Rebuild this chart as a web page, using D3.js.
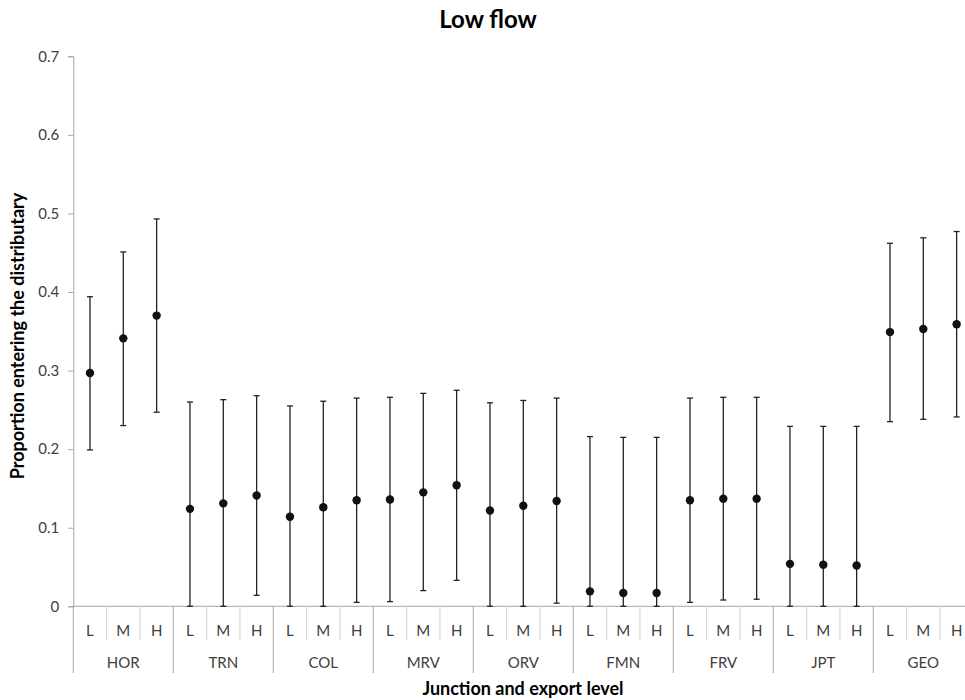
<!DOCTYPE html>
<html>
<head>
<meta charset="utf-8">
<script src="https://cdn.jsdelivr.net/npm/d3@7"></script>
<style>
  body { margin: 0; background: #fff; }
  text { font-family: Lato, "Open Sans", sans-serif; }
</style>
</head>
<body>
<svg width="965" height="700"></svg>
<script>
// Data
const junctions = ["HOR", "TRN", "COL", "MRV", "ORV", "FMN", "FRV", "JPT", "GEO"];
const levels = ["L", "M", "H"];
const estimates = [
    0.297, 0.341, 0.370,
    0.124, 0.131, 0.141,
    0.114, 0.126, 0.135,
    0.136, 0.145, 0.154,
    0.122, 0.128, 0.134,
    0.019, 0.017, 0.017,
    0.135, 0.137, 0.137,
    0.054, 0.053, 0.052,
    0.349, 0.353, 0.359
];
const upper = [
    0.394, 0.451, 0.493,
    0.260, 0.263, 0.268,
    0.255, 0.261, 0.265,
    0.266, 0.271, 0.275,
    0.259, 0.262, 0.265,
    0.216, 0.215, 0.215,
    0.265, 0.266, 0.266,
    0.229, 0.229, 0.229,
    0.462, 0.469, 0.477
];
const lower = [
    0.199, 0.230, 0.247,
    0.000, 0.000, 0.014,
    0.000, 0.000, 0.005,
    0.006, 0.020, 0.033,
    0.000, 0.000, 0.004,
    0.000, 0.000, 0.000,
    0.005, 0.008, 0.009,
    0.000, 0.000, 0.000,
    0.235, 0.238, 0.241
];
const yTicks = [0, 0.1, 0.2, 0.3, 0.4, 0.5, 0.6, 0.7];

// Build rows from the arrays
const rows = [];
junctions.forEach((j, gi) => {
    levels.forEach((l, li) => {
        const i = gi * 3 + li;
        rows.push({ key: j + "-" + l, junction: j, level: l, est: estimates[i], hi: upper[i], lo: lower[i] });
    });
});

const svg = d3.select("svg");
const axisColor = "#a6a6a6";
const textColor = "#404040";

const x = d3.scaleBand()
    .domain(rows.map(d => d.key))
    .range([73.3, 973.3])
    .padding(0);

const y = d3.scaleLinear()
    .domain([0, 0.7])
    .range([606.3, 56.3]);

// Title
svg.append("text")
    .attr("x", 488)
    .attr("y", 28)
    .attr("text-anchor", "middle")
    .attr("font-size", 24)
    .attr("font-weight", "bold")
    .attr("fill", "#000")
    .text("Low flow");

// Y axis
const yAxis = svg.append("g")
    .attr("transform", "translate(73.3,0)")
    .call(d3.axisLeft(y).tickValues(yTicks).tickSize(5).tickPadding(9)
        .tickFormat(d => d === 0 ? "0" : d3.format(".1f")(d)));
yAxis.select(".domain").attr("stroke", axisColor);
yAxis.selectAll(".tick line").attr("stroke", axisColor);
yAxis.selectAll(".tick text")
    .attr("fill", textColor)
    .attr("font-size", 15)
    .attr("font-family", "Lato, 'Open Sans', sans-serif");

// X axis baseline
svg.append("line")
    .attr("x1", 73.3).attr("x2", 973.3)
    .attr("y1", y(0)).attr("y2", y(0))
    .attr("stroke", axisColor);

// Level dividers and labels
const xAxis = svg.append("g");
rows.forEach((d, i) => {
    const left = x(d.key);
    const isGroupEdge = i % 3 === 0;
    xAxis.append("line")
        .attr("x1", left).attr("x2", left)
        .attr("y1", y(0)).attr("y2", isGroupEdge ? 673 : 640)
        .attr("stroke", isGroupEdge ? axisColor : "#d0d0d0");
    xAxis.append("text")
        .attr("x", left + x.bandwidth() / 2)
        .attr("y", 636)
        .attr("text-anchor", "middle")
        .attr("font-size", 15)
        .attr("fill", textColor)
        .text(d.level);
});

// Group labels
junctions.forEach(j => {
    const start = x(j + "-L");
    const end = x(j + "-H") + x.bandwidth();
    xAxis.append("text")
        .attr("x", (start + end) / 2)
        .attr("y", 668)
        .attr("text-anchor", "middle")
        .attr("font-size", 15)
        .attr("fill", textColor)
        .text(j);
});

// Axis titles
svg.append("text")
    .attr("x", 523)
    .attr("y", 695)
    .attr("text-anchor", "middle")
    .attr("font-size", 18)
    .attr("font-weight", "bold")
    .attr("fill", "#000")
    .text("Junction and export level");

svg.append("text")
    .attr("transform", "translate(24,336) rotate(-90)")
    .attr("text-anchor", "middle")
    .attr("font-size", 18)
    .attr("font-weight", "bold")
    .attr("fill", "#000")
    .text("Proportion entering the distributary");

// Error bars
const cap = 3;
const bars = svg.append("g");
rows.forEach(d => {
    const cx = x(d.key) + x.bandwidth() / 2;
    bars.append("line")
        .attr("x1", cx).attr("x2", cx)
        .attr("y1", y(d.lo)).attr("y2", y(d.hi))
        .attr("stroke", "#222").attr("stroke-width", 1.3);
    [d.lo, d.hi].forEach(v => {
        bars.append("line")
            .attr("x1", cx - cap).attr("x2", cx + cap)
            .attr("y1", y(v)).attr("y2", y(v))
            .attr("stroke", "#222").attr("stroke-width", 1.3);
    });
});

// Points
svg.append("g").selectAll("circle")
    .data(rows)
    .enter()
    .append("circle")
    .attr("cx", d => x(d.key) + x.bandwidth() / 2)
    .attr("cy", d => y(d.est))
    .attr("r", 4.2)
    .attr("fill", "#111");
</script>
</body>
</html>
